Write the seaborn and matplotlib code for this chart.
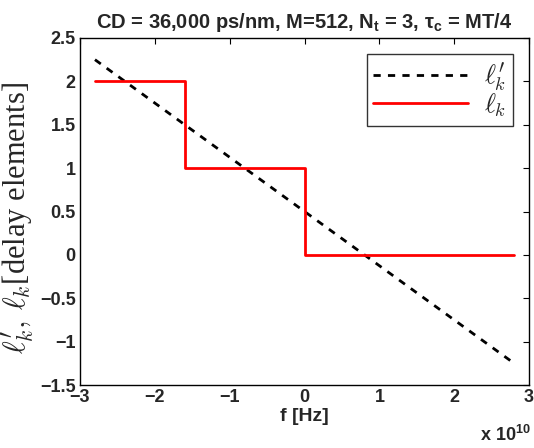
import matplotlib.pyplot as plt
import matplotlib.ticker as mticker
from matplotlib.font_manager import FontProperties
import seaborn as sns
import pandas as pd

# ideal (continuous) delay vs frequency
f_ideal = [-2.8e10, 2.8e10]
l_ideal = [2.25, -1.25]

# quantized delay (staircase)
f_step = [-2.8e10, -1.6e10, -1.6e10, 0.0, 0.0, 2.8e10]
l_step = [2, 2, 1, 1, 0, 0]

x_ticks = [-3e10, -2e10, -1e10, 0, 1e10, 2e10, 3e10]
y_ticks = [-1.5, -1, -0.5, 0, 0.5, 1, 1.5, 2, 2.5]

sns.set_theme(style='white')
plt.rcParams['font.family'] = ['Liberation Sans', 'DejaVu Sans']
plt.rcParams['mathtext.fontset'] = 'custom'
plt.rcParams['mathtext.rm'] = 'Liberation Sans:bold'
plt.rcParams['mathtext.bf'] = 'Liberation Sans:bold'

fig = plt.figure(figsize=(5.34, 4.48), dpi=100)
ax = fig.add_axes([0.1498, 0.1406, 0.841, 0.7746])

df_ideal = pd.DataFrame({'f': f_ideal, 'l': l_ideal})
df_step = pd.DataFrame({'f': f_step, 'l': l_step})

sns.lineplot(data=df_ideal, x='f', y='l', ax=ax, color='black', lw=2,
             linestyle=(0, (2.6, 2.6)), estimator=None, sort=False, label=r"${\ell}^{\prime}_{k}$")
sns.lineplot(data=df_step, x='f', y='l', ax=ax, color='red', lw=2,
             estimator=None, sort=False, label=r"${\ell}_{k}$")

ax.set_xlim(-3e10, 3e10)
ax.set_ylim(-1.5, 2.5)
ax.set_xticks(x_ticks)
ax.set_yticks(y_ticks)
ax.xaxis.set_major_formatter(mticker.FuncFormatter(lambda v, p: f"{v / 1e10:g}".replace('-', '\u2212')))
ax.yaxis.set_major_formatter(mticker.FuncFormatter(lambda v, p: f"{v:g}".replace('-', '\u2212')))
ax.tick_params(direction='in', length=4, width=0.8, top=True, right=True,
               labelsize=13, pad=3, color='black')
for lab in ax.get_xticklabels() + ax.get_yticklabels():
    lab.set_fontweight('bold')
for sp in ax.spines.values():
    sp.set_color('black')
    sp.set_linewidth(1.0)

ax.set_xlabel('f [Hz]', fontsize=14, fontweight='bold', labelpad=1)
ax.set_ylabel(r"${\ell}^{\prime}_{k},\, {\ell}_{k}$[delay elements]", fontsize=22,
              family=['Liberation Serif', 'DejaVu Serif'], math_fontfamily='cm')
ax.yaxis.set_label_coords(-0.096, 0.48)
ax.set_title('CD = 36,000 ps/nm, M=512, N$_\\mathbf{t}$ = 3, \u03c4$_\\mathbf{c}$ = MT/4',
             fontsize=14.5, fontweight='bold', pad=7)
ax.text(1.003, -0.115, r'x 10$^{\mathbf{10}}$', transform=ax.transAxes, ha='right',
        va='top', fontsize=13, fontweight='bold')

leg = ax.legend(loc='upper right', frameon=True, fancybox=False,
                prop=FontProperties(size=19, math_fontfamily='cm'),
                edgecolor='black', handlelength=3.6, borderpad=0.25, labelspacing=-0.05,
                handletextpad=0.6, borderaxespad=0, bbox_to_anchor=(0.964, 0.955))
leg.get_frame().set_linewidth(1.0)

fig.savefig('out.png', dpi=100)
